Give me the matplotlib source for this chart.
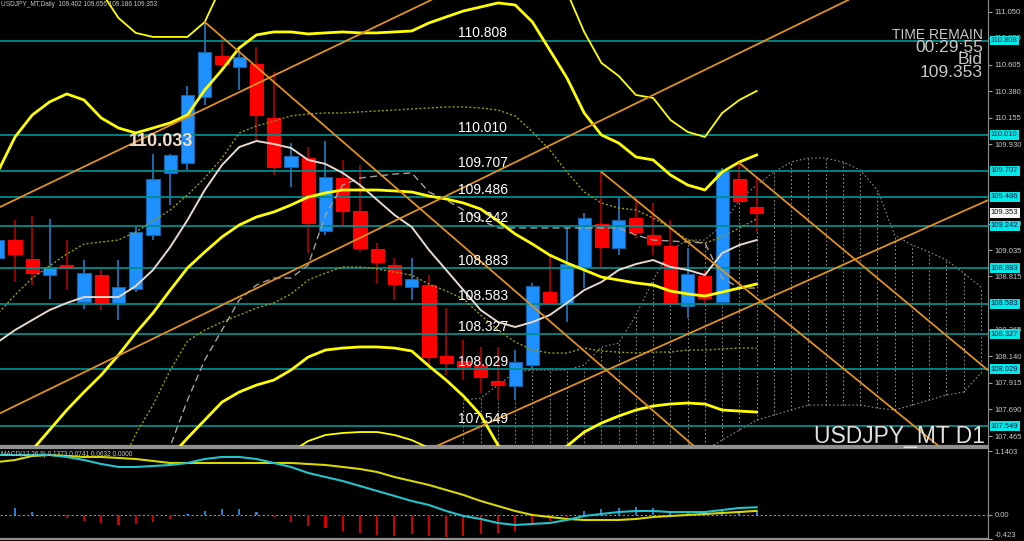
import matplotlib
matplotlib.use("Agg")
import matplotlib.pyplot as plt
import matplotlib.transforms as mtransforms

plt.rcParams['font.family'] = ['Liberation Sans', 'DejaVu Sans']

# daily candles, index -1 .. 43 (last one is the current bar)
candle_idx = list(range(-1, 44))
opens = [108.970, 109.122, 108.962, 108.826, 108.911, 108.598, 108.826, 108.590, 108.708, 109.164,
         109.689, 109.773, 110.331, 110.678, 110.585, 110.610, 110.154, 109.739, 109.815, 109.198,
         109.646, 109.367, 109.046, 108.911, 108.725, 108.742, 108.142, 108.099, 108.057, 107.930,
         107.888, 108.065, 108.682, 108.590, 108.894, 109.258, 109.055, 109.308, 109.164, 109.071,
         108.564, 108.818, 108.598, 109.638, 109.402]
highs = [109.224, 109.291, 109.325, 109.300, 109.122, 108.953, 108.877, 108.953, 109.232, 109.849,
         109.849, 110.424, 110.965, 110.830, 110.729, 110.754, 110.543, 109.942, 109.908, 109.959,
         109.799, 109.756, 109.097, 108.970, 108.970, 108.826, 108.547, 108.277, 108.218, 108.218,
         108.192, 108.759, 108.995, 109.224, 109.350, 109.697, 109.486, 109.477, 109.435, 109.291,
         109.055, 108.869, 109.731, 109.773, 109.656]
lows = [108.886, 108.767, 108.742, 108.623, 108.699, 108.539, 108.530, 108.446, 108.682, 109.122,
        109.418, 109.714, 110.264, 110.560, 110.390, 109.968, 109.672, 109.570, 109.012, 109.164,
        109.249, 109.021, 108.759, 108.615, 108.615, 108.048, 107.981, 107.938, 107.828, 107.769,
        107.769, 108.023, 108.573, 108.429, 108.716, 108.894, 108.995, 109.139, 108.995, 108.573,
        108.463, 108.573, 108.573, 109.435, 109.186]
closes = [109.122, 109.004, 108.843, 108.894, 108.886, 108.843, 108.590, 108.725, 109.190, 109.638,
          109.841, 110.348, 110.712, 110.610, 110.670, 110.179, 109.739, 109.832, 109.266, 109.655,
          109.367, 109.055, 108.936, 108.750, 108.792, 108.133, 108.082, 108.048, 107.964, 107.896,
          108.091, 108.733, 108.598, 108.919, 109.308, 109.063, 109.291, 109.190, 109.088, 108.590,
          108.835, 108.632, 109.706, 109.452, 109.353]

# bollinger bands (1, 2, 3 sigma) and the other overlays, same index as the candles
bb_mid = [107.110, 107.211, 107.347, 107.516, 107.685, 107.837, 107.981, 108.150, 108.336, 108.505,
          108.699, 108.886, 109.021, 109.148, 109.249, 109.317, 109.359, 109.418, 109.486, 109.520,
          109.545, 109.545, 109.545, 109.537, 109.528, 109.494, 109.469, 109.435, 109.384, 109.283,
          109.173, 109.088, 108.995, 108.928, 108.869, 108.809, 108.784, 108.759, 108.742, 108.691,
          108.666, 108.649, 108.682, 108.716, 108.750]
bb_up2 = [109.697, 109.993, 110.179, 110.289, 110.357, 110.306, 110.154, 110.069, 110.027, 110.069,
          110.112, 110.179, 110.390, 110.560, 110.746, 110.856, 110.881, 110.881, 110.864, 110.873,
          110.881, 110.873, 110.873, 110.881, 110.889, 110.957, 111.008, 111.058, 111.092, 111.126,
          111.109, 110.965, 110.729, 110.492, 110.196, 110.010, 109.942, 109.824, 109.799, 109.672,
          109.587, 109.545, 109.697, 109.782, 109.841]
bb_low2 = [104.523, 104.430, 104.514, 104.743, 105.013, 105.368, 105.808, 106.231, 106.645, 106.941,
           107.288, 107.448, 107.600, 107.752, 107.837, 107.896, 107.938, 108.023, 108.133, 108.192,
           108.209, 108.218, 108.218, 108.209, 108.184, 108.057, 107.938, 107.803, 107.643, 107.389,
           107.220, 107.194, 107.279, 107.380, 107.499, 107.575, 107.634, 107.685, 107.719, 107.736,
           107.744, 107.736, 107.685, 107.676, 107.668]
bb_up3 = [111.321, 111.405, 111.659, 111.701, 111.617, 111.490, 111.219, 110.999, 110.873, 110.839,
          110.839, 110.839, 110.965, 111.278, 111.490, 111.617, 111.642, 111.617, 111.557, 111.549,
          111.549, 111.532, 111.549, 111.566, 111.574, 111.684, 111.777, 111.862, 111.938, 112.048,
          112.082, 111.904, 111.498, 111.219, 110.881, 110.619, 110.509, 110.348, 110.323, 110.137,
          110.036, 109.993, 110.196, 110.306, 110.382]
bb_low3 = [103.204, 103.035, 103.119, 103.373, 103.711, 104.134, 104.726, 105.275, 105.800, 106.163,
           106.586, 106.924, 106.966, 107.009, 107.009, 107.009, 107.093, 107.330, 107.423, 107.474,
           107.491, 107.499, 107.499, 107.474, 107.431, 107.364, 107.161, 107.009, 106.822, 106.518,
           106.273, 106.273, 106.484, 106.772, 106.949, 107.093, 107.178, 107.211, 107.211, 107.211,
           107.186, 107.169, 107.161, 107.161, 107.118]
bb_up1 = [108.497, 108.657, 108.801, 108.902, 109.004, 109.088, 109.105, 109.122, 109.190, 109.283,
          109.376, 109.503, 109.646, 109.815, 110.027, 110.086, 110.128, 110.171, 110.188, 110.196,
          110.196, 110.205, 110.213, 110.221, 110.230, 110.238, 110.247, 110.247, 110.238, 110.221,
          110.171, 110.036, 109.883, 109.697, 109.528, 109.435, 109.393, 109.376, 109.308, 109.224,
          109.122, 109.097, 109.148, 109.224, 109.300]
bb_low1 = [105.723, 105.766, 105.893, 106.129, 106.366, 106.586, 106.856, 107.178, 107.482, 107.727,
           108.023, 108.268, 108.361, 108.429, 108.488, 108.547, 108.590, 108.666, 108.784, 108.843,
           108.894, 108.894, 108.877, 108.852, 108.826, 108.750, 108.691, 108.623, 108.488, 108.361,
           108.260, 108.192, 108.167, 108.167, 108.209, 108.184, 108.175, 108.167, 108.175, 108.175,
           108.192, 108.192, 108.201, 108.209, 108.209]
fast_ma = [108.260, 108.361, 108.446, 108.530, 108.590, 108.640, 108.640, 108.640, 108.733, 108.869,
           109.063, 109.291, 109.545, 109.756, 109.908, 109.959, 109.934, 109.900, 109.799, 109.765,
           109.689, 109.587, 109.461, 109.334, 109.232, 109.038, 108.869, 108.699, 108.530, 108.429,
           108.387, 108.429, 108.488, 108.590, 108.699, 108.767, 108.869, 108.919, 108.953, 108.894,
           108.869, 108.826, 109.012, 109.080, 109.122]
kijun = [106.755, 106.755, 106.840, 106.840, 106.924, 106.924, 107.009, 107.009, 107.093, 107.178,
         107.380, 107.769, 108.108, 108.361, 108.615, 108.742, 108.801, 108.801, 108.911, 109.334,
         109.587, 109.646, 109.663, 109.680, 109.689, 109.528, 109.461, 109.376, 109.291, 109.224,
         109.224, 109.224, 109.224, 109.224, 109.224, 109.224, 109.224, 109.164, 109.122, 109.114,
         109.105, 109.097, 108.801, 108.716, 108.716]

# ichimoku cloud, index 26 .. 56
cloud_idx = list(range(26, 57))
cloud_top = [107.769, 107.786, 107.896, 108.006, 108.023, 108.023, 108.023, 108.065, 108.218, 108.251,
             108.488, 108.784, 109.038, 109.122, 109.122, 109.249, 109.461, 109.587, 109.697, 109.782,
             109.815, 109.815, 109.782, 109.714, 109.545, 109.164, 109.080, 109.021, 108.953, 108.843,
             108.725]
cloud_bot = [107.178, 107.178, 107.178, 107.178, 107.178, 107.178, 107.178, 107.178, 107.178, 107.178,
             107.178, 107.178, 107.178, 107.262, 107.347, 107.431, 107.516, 107.600, 107.643, 107.685,
             107.727, 107.727, 107.727, 107.727, 107.702, 107.685, 107.727, 107.769, 107.812, 107.837,
             107.998]

# horizontal levels
levels = [110.808, 110.010, 109.707, 109.486, 109.242, 108.883, 108.583, 108.327, 108.029, 107.549]
bid = 109.353
axis_ticks = [111.050, 110.830, 110.605, 110.380, 110.155, 109.930, 109.260,
              109.035, 108.815, 108.365, 108.140, 107.915, 107.690, 107.465]

# trend lines: (index, price) anchors
trend_full = [((0, 109.462), (20, 110.862)),
              ((30, 107.742), (50, 109.042)),
              ((15, 108.785), (43, 110.774))]
trend_rays = [((11, 110.965), (22.9, 109.461)),
              ((34, 109.697), (44.35, 108.471)),
              ((42, 109.773), (56.4, 108.023))]

# MACD(12,26,9)
macd_main = [1.070, 1.070, 1.070, 1.070, 1.034, 0.980, 0.909, 0.856, 0.856, 0.873,
             0.891, 0.927, 0.998, 1.034, 1.034, 0.998, 0.927, 0.856, 0.749, 0.677,
             0.606, 0.517, 0.428, 0.339, 0.250, 0.178, 0.071, -0.018, -0.071, -0.143,
             -0.178, -0.160, -0.143, -0.089, -0.018, 0.018, 0.053, 0.071, 0.071, 0.053,
             0.053, 0.053, 0.089, 0.125, 0.137]
macd_signal = [0.945, 0.980, 1.052, 1.070, 1.052, 1.034, 1.034, 1.016, 0.998, 0.963,
               0.927, 0.927, 0.927, 0.927, 0.927, 0.927, 0.927, 0.927, 0.909, 0.891,
               0.856, 0.820, 0.766, 0.677, 0.606, 0.535, 0.446, 0.357, 0.250, 0.160,
               0.071, 0.000, -0.036, -0.071, -0.089, -0.089, -0.089, -0.071, -0.036, -0.018,
               0.000, 0.018, 0.036, 0.053, 0.074]
macd_hist = [0.000, 0.125, 0.053, 0.005, -0.053, -0.107, -0.143, -0.178, -0.160, -0.125,
             -0.071, 0.010, 0.071, 0.107, 0.107, 0.053, -0.036, -0.125, -0.196, -0.232,
             -0.285, -0.321, -0.357, -0.374, -0.339, -0.374, -0.392, -0.374, -0.339, -0.321,
             -0.285, -0.178, -0.107, -0.036, 0.071, 0.107, 0.125, 0.143, 0.125, 0.071,
             0.053, 0.036, 0.071, 0.071, 0.063]
macd_ticks = [1.1403, 0.0, -0.423]
macd_tick_labels = ["1.1403", "0.00", "-0.423"]

BLUE = '#1e90ff'
RED = '#ff0000'
TEAL = '#008c8c'
ORANGE = '#e0901c'
YELLOW = '#ffff00'
GRID_GREY = '#909090'
TEXT_GREY = '#c8c8c8'

X_LIM = (-0.87, 56.41)


def draw_candles(ax):
    for i, o, h, l, c in zip(candle_idx, opens, highs, lows, closes):
        up = c >= o
        wick_col = '#1f68aa' if up else '#9a0000'
        ax.vlines(i, l, h, color=wick_col, lw=1.4, zorder=2)
        body_col = BLUE if up else RED
        ax.bar(i, max(abs(c - o), 0.012), bottom=min(o, c), width=0.76,
               color=body_col, edgecolor='#1862aa' if up else RED, lw=0.8, zorder=2.2)


def draw_cloud(ax):
    for i, t, b in zip(cloud_idx, cloud_top, cloud_bot):
        ax.vlines(i, b, t, color='#8a8a8a', lw=0.8, linestyles=(0, (1.5, 2)), zorder=1.5)
    ax.plot(cloud_idx, cloud_top, color='#8a8a8a', lw=0.8, ls=(0, (1.5, 2)), zorder=1.5)
    ax.plot(cloud_idx, cloud_bot, color='#8a8a8a', lw=0.8, ls=(0, (1.5, 2)), zorder=1.5)


def draw_main(ax):
    ax.set_facecolor('black')
    draw_cloud(ax)
    draw_candles(ax)

    for lv in levels:
        ax.axhline(lv, color=TEAL, lw=1.3, zorder=3)
        ax.annotate(f"{lv:.3f}", xy=(25.68, lv), xytext=(0, 2.5), textcoords='offset points',
                    color='white', fontsize=10, va='baseline', ha='left', zorder=6)

    ax.plot(candle_idx, bb_up1, color='#9a9a00', lw=1.0, ls=(0, (1.5, 1.5)), zorder=3)
    ax.plot(candle_idx, bb_low1, color='#9a9a00', lw=1.0, ls=(0, (1.5, 1.5)), zorder=3)
    ax.plot(candle_idx, kijun, color='#a8a098', lw=1.0, ls=(0, (5, 3)), zorder=3)
    ax.plot(candle_idx, fast_ma, color='#e6d8cc', lw=1.4, zorder=3.2)
    ax.plot(candle_idx, bb_up3, color=YELLOW, lw=1.3, zorder=3.3)
    ax.plot(candle_idx, bb_low3, color=YELLOW, lw=1.3, zorder=3.3)
    ax.plot(candle_idx, bb_up2, color=YELLOW, lw=2.0, zorder=3.4)
    ax.plot(candle_idx, bb_low2, color=YELLOW, lw=2.0, zorder=3.4)
    ax.plot(candle_idx, bb_mid, color=YELLOW, lw=2.0, zorder=3.4)

    for p1, p2 in trend_full:
        ax.axline(p1, p2, color=ORANGE, lw=1.3, zorder=3.5)
    for (x1, y1), (x2, y2) in trend_rays:
        slope = (y2 - y1) / (x2 - x1)
        ax.plot([x1, 60], [y1, y1 + slope * (60 - x1)], color=ORANGE, lw=1.3, zorder=3.5)

    # price label of the swing, drawn just under its own level
    ax.annotate("110.033", xy=(6.62, 110.033), xytext=(0, -7), textcoords='offset points',
                color='#f2dcc8', fontsize=13, fontweight='bold', va='center', ha='left', zorder=6)

    ax.set_xlim(*X_LIM)
    ax.set_ylim(107.381, 111.151)
    ax.set_xticks([])
    ax.yaxis.tick_right()
    ax.set_yticks(axis_ticks)
    ax.set_yticklabels([f"{t:.3f}" for t in axis_ticks])
    ax.tick_params(axis='y', colors='#a0a0a0', labelcolor=TEXT_GREY, labelsize=5.5,
                   length=3, width=0.8, pad=2)
    for side in ('left', 'top'):
        ax.spines[side].set_visible(False)
    ax.spines['right'].set_color(GRID_GREY)
    ax.spines['bottom'].set_color(GRID_GREY)
    ax.spines['bottom'].set_linewidth(1.6)

    tr = mtransforms.blended_transform_factory(ax.transAxes, ax.transData)
    for lv in levels:
        ax.text(1.003, lv, f"{lv:.3f}", transform=tr, fontsize=5.5, color='#101040',
                va='center', ha='left', clip_on=False, zorder=10,
                bbox=dict(boxstyle='square,pad=0.18', fc='#00e8e8', ec='none'))
    ax.text(1.003, bid, f"{bid:.3f}", transform=tr, fontsize=5.5, color='#101010',
            va='center', ha='left', clip_on=False, zorder=10,
            bbox=dict(boxstyle='square,pad=0.18', fc='#f4f4f4', ec='none'))

    ax.text(0.001, 0.989, "USDJPY_MT,Daily  109.402 109.656 109.186 109.353",
            transform=ax.transAxes, color=TEXT_GREY, fontsize=4.7, va='center', ha='left')


def draw_macd(ax):
    ax.set_facecolor('black')
    cols = ['#2a7fd0' if v >= 0 else '#d00000' for v in macd_hist]
    ax.bar(candle_idx, macd_hist, width=0.12, color=cols, zorder=2)
    ax.axhline(0, color='#909090', lw=0.8, ls=(0, (2, 2)), zorder=1)
    ax.plot(candle_idx, macd_signal, color='#d8d800', lw=1.5, zorder=3)
    ax.plot(candle_idx, macd_main, color='#22c4cc', lw=1.5, zorder=3)

    ax.set_xlim(*X_LIM)
    ax.set_ylim(-0.428, 1.194)
    ax.set_xticks([])
    ax.yaxis.tick_right()
    ax.set_yticks(macd_ticks)
    ax.set_yticklabels(macd_tick_labels)
    ax.tick_params(axis='y', colors='#a0a0a0', labelcolor=TEXT_GREY, labelsize=5.5,
                   length=3, width=0.8, pad=2)
    ax.get_yticklabels()[-1].set_va('bottom')
    ax.spines['left'].set_visible(False)
    for side in ('right', 'top', 'bottom'):
        ax.spines[side].set_color(GRID_GREY)
    ax.spines['top'].set_linewidth(1.6)
    ax.spines['bottom'].set_linewidth(1.6)
    ax.text(0.001, 0.93, "MACD(12,26,9) 0.1373 0.0741 0.0632 0.0000",
            transform=ax.transAxes, color=TEXT_GREY, fontsize=4.7, va='center', ha='left')


def main():
    fig = plt.figure(figsize=(10.24, 5.41), dpi=100, facecolor='black')
    ax_main = fig.add_axes([0.0, 0.1756, 0.9648, 0.8244])
    ax_macd = fig.add_axes([0.0, 0.0037, 0.9648, 0.1682])
    draw_main(ax_main)
    draw_macd(ax_macd)

    W, H = 1024.0, 541.0
    fig.text(983 / W, 1 - 35 / H, "TIME REMAIN", color=TEXT_GREY, fontsize=10, ha='right', va='center')
    fig.text(983 / W, 1 - 47 / H, "00:29:55", color=TEXT_GREY, fontsize=12.5, ha='right', va='center')
    fig.text(983 / W, 1 - 59 / H, "Bid", color=TEXT_GREY, fontsize=12.5, ha='right', va='center')
    fig.text(983 / W, 1 - 73 / H, "109.353", color=TEXT_GREY, fontsize=12.5, ha='right', va='center')
    fig.text(985 / W, 1 - 443 / H, "USDJPY_MT D1", color='#e0e0e0', fontsize=16.5,
             ha='right', va='baseline')

    fig.savefig("out.png", dpi=100, facecolor='black')


if __name__ == '__main__':
    main()
